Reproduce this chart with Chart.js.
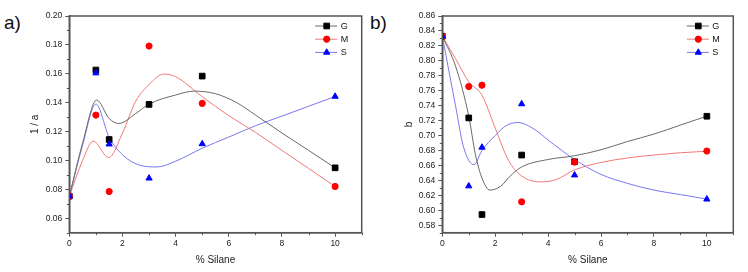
<!DOCTYPE html>
<html>
<head>
<meta charset="utf-8">
<script src="https://cdn.jsdelivr.net/npm/chart.js@4.4.1/dist/chart.umd.min.js"></script>
<style>
  body { margin: 0; background: #fff; width: 748px; height: 272px; position: relative; overflow: hidden;
         font-family: "Liberation Sans", Arial, sans-serif; }
  canvas { position: absolute; top: 0; }
  .tag { position: absolute; top: 13px; font-size: 19px; line-height: 19px; color: #111; }
</style>
</head>
<body>
<div class="tag" style="left:4px">a)</div>
<div class="tag" style="left:370px">b)</div>
<canvas id="chartA" width="374" height="272" style="left:0"></canvas>
<canvas id="chartB" width="374" height="272" style="left:374px"></canvas>
<script>
// measured points (% silane)
const silane = [0, 1, 1.5, 3, 5, 10];
const invA_G = [0.0753, 0.1626, 0.1145, 0.1388, 0.1584, 0.0949];
const invA_M = [0.0753, 0.1314, 0.0785, 0.1792, 0.1395, 0.0820];
const invA_S = [0.0753, 0.1605, 0.1113, 0.0877, 0.1115, 0.1443];
const b_G = [0.8330, 0.7236, 0.5943, 0.6739, 0.6650, 0.7258];
const b_M = [0.8330, 0.7656, 0.7674, 0.6113, 0.6645, 0.6793];
const b_S = [0.8330, 0.6324, 0.6842, 0.7423, 0.6471, 0.6148];

// fitted curves
const fitA_G_x = [0, 0.5, 1.03, 1.5, 1.86, 2.5, 3, 4, 4.7, 5.5, 6.3, 7, 8, 9, 10];
const fitA_G_y = [0.075, 0.112, 0.1418, 0.129, 0.1256, 0.1325, 0.139, 0.1453, 0.148, 0.1462, 0.140, 0.1315, 0.1190, 0.1070, 0.0949];
const fitA_M_x = [0, 0.5, 0.9, 1.48, 2, 2.5, 3, 3.55, 4, 5, 6, 7, 8, 9, 10];
const fitA_M_y = [0.075, 0.100, 0.1134, 0.102, 0.119, 0.141, 0.1525, 0.1598, 0.158, 0.1441, 0.131, 0.1195, 0.107, 0.0945, 0.082];
const fitA_S_x = [0, 0.5, 1.0, 1.5, 2, 2.6, 3.3, 4, 5, 6, 7, 8, 9, 10];
const fitA_S_y = [0.075, 0.1106, 0.139, 0.116, 0.104, 0.097, 0.0955, 0.0995, 0.1085, 0.1162, 0.124, 0.1307, 0.1375, 0.1443];

const fitB_G_x = [0, 0.5, 1, 1.25, 1.5, 1.8, 2.2, 2.6, 3, 4, 5, 6, 7, 8, 9, 10];
const fitB_G_y = [0.833, 0.793, 0.726, 0.675, 0.643, 0.627, 0.632, 0.647, 0.658, 0.668, 0.673, 0.681, 0.692, 0.702, 0.714, 0.726];
const fitB_M_x = [0, 0.5, 1, 1.5, 2, 2.5, 3, 3.7, 4.3, 5, 6, 7, 8, 9, 10];
const fitB_M_y = [0.833, 0.803, 0.772, 0.754, 0.710, 0.667, 0.646, 0.638, 0.641, 0.654, 0.664, 0.670, 0.674, 0.677, 0.679];
const fitB_S_x = [0, 0.5, 0.8, 1.2, 1.5, 2, 2.4, 2.85, 3.5, 4, 5, 6, 7, 8, 9, 10];
const fitB_S_y = [0.833, 0.740, 0.685, 0.661, 0.680, 0.700, 0.713, 0.7175, 0.708, 0.694, 0.668, 0.648, 0.636, 0.627, 0.621, 0.615];

// axes
const xTicks = [0, 2, 4, 6, 8, 10];
const xMinor = [1, 3, 5, 7, 9, 11];
const yTicksA = [0.06, 0.08, 0.10, 0.12, 0.14, 0.16, 0.18, 0.20];
const yMinorA = [0.05, 0.07, 0.09, 0.11, 0.13, 0.15, 0.17, 0.19];
const yTicksB = [0.58, 0.60, 0.62, 0.64, 0.66, 0.68, 0.70, 0.72, 0.74, 0.76, 0.78, 0.80, 0.82, 0.84, 0.86];
const yMinorB = [0.57, 0.59, 0.61, 0.63, 0.65, 0.67, 0.69, 0.71, 0.73, 0.75, 0.77, 0.79, 0.81, 0.83, 0.85];
const seriesNames = ['G', 'M', 'S'];

const FONT = '"Liberation Sans", Arial, sans-serif';
const AXIS = '#555';
const markers = [
  { style: 'rect', color: '#000', radius: 4.0, line: '#6a6a6a' },
  { style: 'circle', color: '#ff0000', radius: 3.1, line: '#f07878' },
  { style: 'triangle', color: '#0000ff', radius: 3.6, line: '#7878f0' },
];

const pts = (xs, ys) => xs.map((x, i) => ({ x, y: ys[i] }));

// frame, minor ticks and the Origin-style legend
const extras = {
  id: 'extras',
  afterDraw(chart, args, opts) {
    const { ctx, chartArea: a, scales: { x, y } } = chart;
    ctx.save();
    ctx.strokeStyle = AXIS;
    ctx.lineWidth = 1;
    ctx.beginPath();
    opts.xMinor.forEach(v => { const p = Math.round(x.getPixelForValue(v)) + 0.5; ctx.moveTo(p, a.bottom); ctx.lineTo(p, a.bottom + 2.5); });
    opts.yMinor.forEach(v => { const p = Math.round(y.getPixelForValue(v)) + 0.5; ctx.moveTo(a.left, p); ctx.lineTo(a.left - 2.5, p); });
    ctx.stroke();
    ctx.lineWidth = 1.5;
    ctx.strokeRect(a.left, a.top, a.right - a.left, a.bottom - a.top);

    ctx.font = '9px ' + FONT;
    ctx.textBaseline = 'middle';
    seriesNames.forEach((name, i) => {
      const m = markers[i];
      const yy = a.top + 10 + i * 13.2;
      ctx.strokeStyle = m.line;
      ctx.lineWidth = 1;
      ctx.beginPath();
      ctx.moveTo(a.right - 46.5, yy);
      ctx.lineTo(a.right - 24.5, yy);
      ctx.stroke();
      ctx.fillStyle = m.color;
      ctx.strokeStyle = m.color;
      Chart.helpers.drawPoint(ctx, { pointStyle: m.style, radius: m.radius, borderWidth: 1, rotation: 0 }, a.right - 35, yy);
      ctx.fillStyle = '#111';
      ctx.fillText(name, a.right - 21, yy + 0.5);
    });
    ctx.restore();
  }
};

function makeChart(id, cfg) {
  const datasets = [];
  cfg.points.forEach((ys, i) => {
    const m = markers[i];
    datasets.push({
      label: seriesNames[i],
      data: pts(silane, ys),
      pointStyle: m.style,
      pointRadius: m.radius,
      pointBackgroundColor: m.color,
      pointBorderColor: m.color,
      pointBorderWidth: 1,
      showLine: false,
      order: 2 - i, // S on top, G underneath
    });
  });
  cfg.fits.forEach((f, i) => {
    datasets.push({
      label: seriesNames[i] + ' fit',
      data: pts(f[0], f[1]),
      showLine: true,
      pointRadius: 0,
      borderColor: markers[i].line,
      borderWidth: 1,
      cubicInterpolationMode: 'monotone',
      order: 3,
    });
  });

  return new Chart(document.getElementById(id), {
    type: 'scatter',
    data: { datasets },
    plugins: [extras],
    options: {
      responsive: false,
      animation: false,
      layout: { padding: { left: 0, top: 16, right: cfg.padRight, bottom: 0 } },
      plugins: {
        legend: { display: false },
        tooltip: { enabled: false },
        extras: { xMinor, yMinor: cfg.yMinor },
      },
      scales: {
        x: {
          type: 'linear', min: 0, max: 11,
          afterBuildTicks: s => { s.ticks = xTicks.map(v => ({ value: v })); },
          afterFit: s => { s.height = 39.3; },
          grid: { drawOnChartArea: false, drawTicks: true, tickLength: 4, color: AXIS },
          border: { display: true, color: AXIS, width: 1.5 },
          ticks: { color: '#222', font: { family: FONT, size: 8.5 }, padding: 1.5, maxRotation: 0 },
          title: { display: true, text: '% Silane', color: '#222', font: { family: FONT, size: 10 }, padding: { top: 0, bottom: 6 } },
        },
        y: {
          type: 'linear', min: cfg.yMin, max: cfg.yMax,
          afterBuildTicks: s => { s.ticks = cfg.yTicks.map(v => ({ value: v })); },
          afterFit: s => { s.width = cfg.yWidth; },
          grid: { drawOnChartArea: false, drawTicks: true, tickLength: 4, color: AXIS },
          border: { display: true, color: AXIS, width: 1.5 },
          ticks: { color: '#222', font: { family: FONT, size: 8.5 }, padding: 3, callback: v => v.toFixed(2) },
          title: { display: true, text: cfg.yTitle, color: '#222', font: { family: FONT, size: 10 }, padding: { top: 29, bottom: 0 } },
        },
      },
    },
  });
}

makeChart('chartA', {
  points: [invA_G, invA_M, invA_S],
  fits: [[fitA_G_x, fitA_G_y], [fitA_M_x, fitA_M_y], [fitA_S_x, fitA_S_y]],
  yMin: 0.05, yMax: 0.20, yTicks: yTicksA, yMinor: yMinorA,
  yTitle: '1 / a', yWidth: 69.3, padRight: 12.3,
});
makeChart('chartB', {
  points: [b_G, b_M, b_S],
  fits: [[fitB_G_x, fitB_G_y], [fitB_M_x, fitB_M_y], [fitB_S_x, fitB_S_y]],
  yMin: 0.57, yMax: 0.86, yTicks: yTicksB, yMinor: yMinorB,
  yTitle: 'b', yWidth: 68.3, padRight: 14.7,
});
</script>
</body>
</html>
